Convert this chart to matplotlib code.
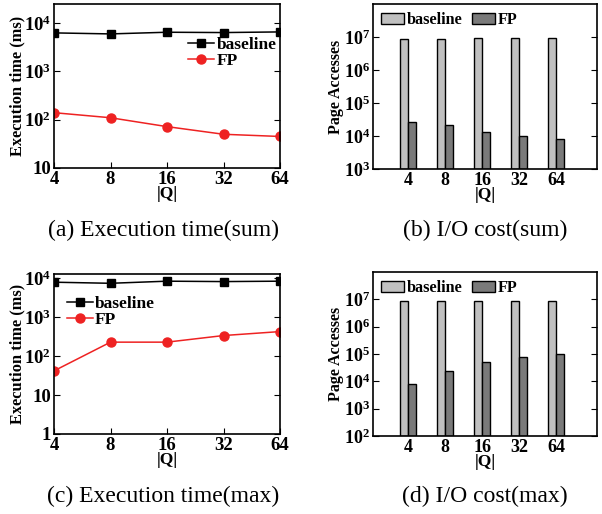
import matplotlib
matplotlib.use("Agg")
import matplotlib.pyplot as plt
import numpy as np

Q = [4, 8, 16, 32, 64]
Q_LABELS = ["4", "8", "16", "32", "64"]

# execution time (ms)
time_sum_baseline = [6300, 6000, 6500, 6400, 6600]
time_sum_fp = [140, 110, 72, 50, 45]
time_max_baseline = [8000, 7500, 8500, 8300, 8500]
time_max_fp = [42, 230, 230, 340, 430]

# page accesses
io_sum_baseline = [9.0e6, 8.6e6, 9.3e6, 9.2e6, 9.3e6]
io_sum_fp = [2.7e4, 2.1e4, 1.3e4, 1.0e4, 8.0e3]
io_max_baseline = [8.7e6, 8.5e6, 9.0e6, 9.0e6, 9.0e6]
io_max_fp = [8.2e3, 2.3e4, 5.2e4, 7.5e4, 1.0e5]

plt.rcParams.update({
    "font.family": "serif",
    "font.serif": ["Liberation Serif", "STIXGeneral", "DejaVu Serif"],
    "font.weight": "bold",
    "mathtext.fontset": "custom",
    "mathtext.rm": "Liberation Serif:bold",
    "mathtext.bf": "Liberation Serif:bold",
    "mathtext.it": "Liberation Serif:bold",
    "axes.linewidth": 1.2,
    "xtick.direction": "in",
    "ytick.direction": "in",
    "xtick.top": False,
    "ytick.right": True,
    "xtick.major.size": 4,
    "ytick.major.size": 4,
})

W, H = 602, 514
fig = plt.figure(figsize=(W / 100, H / 100), dpi=100)


def box(x0, y0, x1, y1):
    return [x0 / W, 1 - y1 / H, (x1 - x0) / W, (y1 - y0) / H]


def dec_labels(exps):
    out = []
    for e in exps:
        if e == 0:
            out.append("1")
        elif e == 1:
            out.append("10")
        else:
            out.append(r"$10^{%d}$" % e)
    return out


def line_panel(ax, base, fp, ylim, exps, legend_loc, legend_anchor):
    ax.plot(Q, base, "-s", color="black", lw=1.1, ms=5.5, label="baseline")
    ax.plot(Q, fp, "-o", color="#ee2222", lw=1.1, ms=6.5, label="FP")
    ax.set_xscale("log", base=2)
    ax.set_yscale("log")
    ax.set_xlim(4, 64)
    ax.set_ylim(*ylim)
    ax.set_xticks(Q)
    ax.set_xticklabels(Q_LABELS)
    ax.xaxis.set_minor_locator(matplotlib.ticker.NullLocator())
    ax.set_yticks([10.0 ** e for e in exps])
    ax.set_yticklabels(dec_labels(exps))
    ax.yaxis.set_minor_locator(matplotlib.ticker.NullLocator())
    ax.tick_params(labelsize=13.5, pad=2)
    ax.set_xlabel("|Q|", fontsize=12.5, fontweight="bold", labelpad=-1)
    ax.set_ylabel("Execution time (ms)", fontsize=11.8, fontweight="bold")
    ax.yaxis.set_label_coords(-0.128, 0.5)
    ax.legend(loc=legend_loc, bbox_to_anchor=legend_anchor, frameon=False,
              fontsize=12.5, handlelength=1.5, handletextpad=0.12,
              labelspacing=0.0, borderaxespad=0.2)


def bar_panel(ax, base, fp, ylim, exps):
    x = np.arange(len(Q))
    w = 0.21
    ax.bar(x - w / 2, base, width=w, bottom=ylim[0], color="#c0c0c0",
           edgecolor="black", lw=1.0, label="baseline")
    ax.bar(x + w / 2, np.array(fp) - ylim[0], width=w, bottom=ylim[0], color="#7a7a7a",
           edgecolor="black", lw=1.0, label="FP")
    ax.set_yscale("log")
    ax.set_xlim(-0.95, 5.1)
    ax.set_ylim(*ylim)
    ax.set_xticks(x)
    ax.set_xticklabels(Q_LABELS)
    ax.tick_params(axis="x", length=0)
    ax.set_yticks([10.0 ** e for e in exps])
    ax.set_yticklabels(dec_labels(exps))
    ax.yaxis.set_minor_locator(matplotlib.ticker.NullLocator())
    ax.tick_params(labelsize=13, pad=2)
    ax.set_xlabel("|Q|", fontsize=12.5, fontweight="bold", labelpad=-1)
    ax.set_ylabel("Page Accesses", fontsize=11.5, fontweight="bold")
    ax.yaxis.set_label_coords(-0.13, 0.5)
    ax.legend(loc="upper left", ncol=2, frameon=False, fontsize=11.7,
              handlelength=1.4, handleheight=0.75, handletextpad=0.2,
              columnspacing=0.55, borderaxespad=0.1)


ax_a = fig.add_axes(box(54, 4, 280, 168))
line_panel(ax_a, time_sum_baseline, time_sum_fp, (10, 2.5e4), [1, 2, 3, 4],
           "upper right", (1.03, 0.865))

ax_b = fig.add_axes(box(373, 4, 597, 169))
bar_panel(ax_b, io_sum_baseline, io_sum_fp, (1e3, 1e8), [3, 4, 5, 6, 7])

ax_c = fig.add_axes(box(54, 274, 280, 434))
line_panel(ax_c, time_max_baseline, time_max_fp, (1, 1.3e4), [0, 1, 2, 3, 4],
           "upper left", (0.01, 0.93))

ax_d = fig.add_axes(box(373, 272, 597, 436))
bar_panel(ax_d, io_max_baseline, io_max_fp, (1e2, 1e8), [2, 3, 4, 5, 6, 7])

cap = dict(ha="center", va="center", fontsize=17, fontweight="normal")
fig.text(163 / W, 1 - 230 / H, "(a) Execution time(sum)", **cap)
fig.text(485 / W, 1 - 230 / H, "(b) I/O cost(sum)", **cap)
fig.text(163 / W, 1 - 496 / H, "(c) Execution time(max)", **cap)
fig.text(485 / W, 1 - 496 / H, "(d) I/O cost(max)", **cap)

fig.savefig("out.png", dpi=100)
